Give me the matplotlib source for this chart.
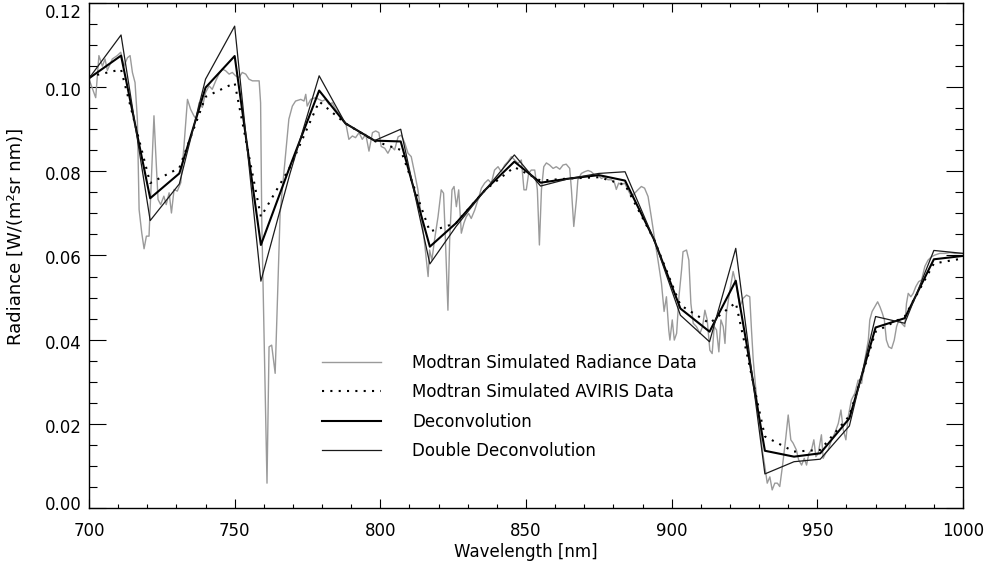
import matplotlib
matplotlib.use("Agg")
import matplotlib.pyplot as plt
import matplotlib.transforms as mtransforms
from matplotlib.ticker import MultipleLocator

# high resolution Modtran radiance
wl_fine = [700, 702.3, 703.4, 704.6, 705.5, 706.3, 708, 709.7, 710.9, 712, 713.2, 714.1, 714.9, 715.8,
           716.6, 717.2, 718.1, 718.9, 719.7, 720.6, 721.2, 722.3, 722.9, 723.7, 724.6, 725.7, 726.5,
           727.5, 728.3, 729.2, 730.3, 731.5, 732.6, 733.8, 734.9, 736, 736.8, 737.8, 738.9, 740,
           741.2, 742.3, 743.5, 744.6, 745.8, 746.9, 748.1, 749.2, 750.3, 751.5, 752.6, 753.8, 754.9,
           756.1, 757.2, 758.4, 758.9, 759.3, 761.1, 761.8, 762.7, 763.9, 765.6, 766.4, 767.5, 768.6,
           769.8, 770.9, 772.7, 773.8, 774.4, 774.9, 776.1, 777.8, 778.9, 780.1, 781.2, 782.4, 783.5,
           784.7, 785.8, 787, 788.1, 789.2, 790.4, 791.5, 792.7, 793.8, 795, 796.1, 797.3, 798.4,
           799.5, 800.3, 801.5, 802.6, 803.8, 804.9, 806.1, 807.2, 808.4, 809.5, 810.6, 811.8, 812.9,
           814.1, 815.2, 816.4, 816.9, 817.7, 818.6, 819.8, 820.9, 821.7, 822.3, 823.2, 823.8, 824.6,
           825.3, 826.1, 826.9, 827.8, 828.7, 829.5, 830.3, 831.2, 832.4, 833.5, 834.7, 835.8, 837,
           838.1, 839.2, 840.4, 841.5, 842.7, 843.8, 845, 846.1, 847.3, 848.4, 849.3, 850.1, 850.9,
           851.8, 853, 853.9, 854.6, 855.3, 856.1, 857, 858.1, 859.3, 860.4, 861.6, 862.7, 863.8, 865,
           865.6, 866.4, 867.3, 867.8, 869, 870.1, 871.3, 872.4, 873.6, 874.7, 875.9, 877, 878.1,
           879.3, 880.4, 881, 881.8, 882.7, 883.9, 885, 886.2, 887.3, 888.4, 889.6, 890.7, 891.9, 893,
           894.2, 895.3, 896.5, 897.4, 898.2, 899, 899.4, 900.2, 900.9, 901.7, 902.5, 903.4, 903.9,
           905.1, 905.9, 906.6, 907.4, 908.5, 909.7, 910.6, 911.4, 912.2, 913.1, 913.9, 914.6, 915.4,
           916.2, 916.9, 917.7, 918.3, 918.8, 920, 921.1, 922.3, 923.4, 924.5, 925.7, 926.8, 927.4,
           928, 928.8, 929.5, 930.3, 931.1, 932, 932.8, 933.7, 934.5, 935.4, 936.3, 937.1, 938, 939.1,
           940, 940.9, 941.7, 942.8, 943.6, 944.6, 945.5, 946.3, 947.1, 948, 948.8, 949.5, 950.3,
           951.4, 952, 952.8, 953.7, 954.9, 956, 957.2, 958.1, 958.9, 959.8, 960.6, 961.7, 962.9, 964,
           965.2, 966.3, 967.5, 968, 968.8, 969.7, 970.7, 971.5, 972.3, 973, 973.7, 974.5, 975.5,
           976.4, 977.2, 978, 978.9, 980, 980.6, 981.2, 982.1, 982.9, 983.8, 984.8, 985.8, 986.9, 988,
           989.2, 990.3, 992, 993.8, 995.5, 997.2, 1000]
rad_fine = [0.1019, 0.0975, 0.1075, 0.105, 0.1067, 0.104, 0.1067, 0.1075, 0.1083, 0.105, 0.107, 0.1075,
            0.1035, 0.1011, 0.0924, 0.0709, 0.0654, 0.0616, 0.0646, 0.0646, 0.0749, 0.0932, 0.0844,
            0.0733, 0.0721, 0.0741, 0.0721, 0.0749, 0.0701, 0.0757, 0.0753, 0.0773, 0.086, 0.0971,
            0.0947, 0.0932, 0.0924, 0.0963, 0.0952, 0.0987, 0.1003, 0.0995, 0.1015, 0.1031, 0.1043,
            0.1039, 0.1031, 0.1035, 0.1027, 0.1023, 0.1035, 0.1031, 0.1019, 0.1015, 0.1015, 0.1015,
            0.0963, 0.0685, 0.0059, 0.0383, 0.0387, 0.032, 0.0700, 0.076, 0.0844, 0.0924, 0.0955,
            0.0967, 0.0971, 0.0967, 0.0983, 0.0955, 0.0971, 0.0975, 0.0971, 0.0967, 0.0971, 0.0959,
            0.0963, 0.0947, 0.0939, 0.0924, 0.0916, 0.0876, 0.0884, 0.088, 0.0892, 0.0876, 0.0888,
            0.0848, 0.0892, 0.0896, 0.0892, 0.0859, 0.0855, 0.0843, 0.0859, 0.0851, 0.0882, 0.0886,
            0.0867, 0.0843, 0.0835, 0.0795, 0.0756, 0.0692, 0.0629, 0.055, 0.0613, 0.0589, 0.0637,
            0.0692, 0.0756, 0.0748, 0.0645, 0.047, 0.0637, 0.0756, 0.0764, 0.0716, 0.0756, 0.0653,
            0.0677, 0.0692, 0.07, 0.0688, 0.0708, 0.0732, 0.076, 0.0772, 0.078, 0.0772, 0.0803, 0.0811,
            0.0799, 0.0815, 0.0823, 0.0835, 0.0827, 0.0819, 0.0827, 0.0756, 0.0756, 0.0795, 0.0803,
            0.0803, 0.0756, 0.0625, 0.0756, 0.0811, 0.082, 0.0815, 0.0807, 0.0811, 0.0805, 0.0815,
            0.0817, 0.0807, 0.0756, 0.0669, 0.0732, 0.078, 0.0795, 0.0799, 0.0802, 0.0799, 0.0791,
            0.0791, 0.0783, 0.0787, 0.078, 0.078, 0.0772, 0.0757, 0.0772, 0.0768, 0.0772, 0.0756,
            0.074, 0.0748, 0.0756, 0.0764, 0.076, 0.074, 0.0692, 0.0637, 0.0589, 0.0534, 0.0467,
            0.0502, 0.0423, 0.0399, 0.0447, 0.0399, 0.0415, 0.0502, 0.0566, 0.0609, 0.0613, 0.0589,
            0.0486, 0.0439, 0.0431, 0.0415, 0.0431, 0.047, 0.0447, 0.0375, 0.0367, 0.0431, 0.0423,
            0.0371, 0.0447, 0.0431, 0.0391, 0.0463, 0.0518, 0.0562, 0.0526, 0.0478, 0.0498, 0.0506,
            0.0502, 0.0423, 0.0352, 0.0289, 0.0241, 0.0194, 0.0138, 0.0098, 0.0059, 0.0074, 0.0043,
            0.0059, 0.0059, 0.0051, 0.0098, 0.0162, 0.0221, 0.0162, 0.0154, 0.0138, 0.0114, 0.0102,
            0.0118, 0.0102, 0.013, 0.0138, 0.0162, 0.0122, 0.013, 0.0174, 0.0118, 0.013, 0.0138,
            0.0162, 0.0178, 0.0201, 0.0233, 0.0186, 0.0162, 0.0217, 0.0257, 0.0273, 0.0304, 0.0296,
            0.0352, 0.0399, 0.0447, 0.0467, 0.0478, 0.049, 0.0478, 0.0463, 0.0447, 0.0399, 0.0383,
            0.0379, 0.0399, 0.0431, 0.0447, 0.0439, 0.0431, 0.0486, 0.051, 0.0502, 0.051, 0.0526,
            0.0538, 0.0542, 0.0574, 0.0589, 0.0597, 0.0601, 0.0605, 0.0605, 0.0607, 0.0605, 0.0605]

# AVIRIS band centres and the three band-sampled curves
wl_band = [700, 711, 721, 731, 740, 750, 759, 769, 779, 788, 798, 807, 817, 826, 836, 846,
           855, 865, 875, 884, 894, 903, 913, 922, 932, 942, 951, 961, 970, 980, 990, 1000]
aviris = [0.1025, 0.1042, 0.0772, 0.0808, 0.0977, 0.1010, 0.0692, 0.0810, 0.0966, 0.0914,
          0.0872, 0.0851, 0.0657, 0.0677, 0.0756, 0.0810, 0.0778, 0.0783, 0.0786, 0.0768,
          0.0637, 0.0482, 0.0439, 0.0488, 0.0170, 0.0134, 0.0138, 0.0219, 0.0419, 0.0455,
          0.0581, 0.0593]
decon = [0.1021, 0.1075, 0.0736, 0.0795, 0.0999, 0.1074, 0.0625, 0.0812, 0.0992, 0.0914,
         0.0873, 0.0871, 0.0621, 0.0677, 0.0756, 0.0823, 0.0773, 0.0783, 0.0791, 0.0778,
         0.0637, 0.0474, 0.0419, 0.0540, 0.0136, 0.0122, 0.0130, 0.0213, 0.0429, 0.0451,
         0.0591, 0.0599]
double_decon = [0.1021, 0.1124, 0.0683, 0.0770, 0.1019, 0.1145, 0.0539, 0.0795, 0.1027, 0.0914,
                0.0873, 0.0900, 0.0580, 0.0669, 0.0756, 0.0839, 0.0765, 0.0783, 0.0795, 0.0799,
                0.0637, 0.0458, 0.0395, 0.0617, 0.0081, 0.0110, 0.0116, 0.0195, 0.0455, 0.0439,
                0.0612, 0.0605]

plt.rcParams['font.family'] = 'DejaVu Sans'
plt.rcParams['font.size'] = 12

fig = plt.figure(figsize=(9.9, 5.71), dpi=100)
ax = fig.add_axes([89/990, 63/571, 874/990, 505/571])

ax.plot(wl_fine, rad_fine, color='#9a9a9a', lw=1.0, label='Modtran Simulated Radiance Data')
ax.plot(wl_band, aviris, color='black', lw=1.5, linestyle=(0, (1, 3)), label='Modtran Simulated AVIRIS Data')
ax.plot(wl_band, decon, color='black', lw=1.5, label='Deconvolution')
ax.plot(wl_band, double_decon, color='#1a1a1a', lw=0.9, label='Double Deconvolution')

ax.set_xlim(700, 1000)
ax.set_ylim(0, 0.12)
ax.xaxis.set_major_locator(MultipleLocator(50))
ax.xaxis.set_minor_locator(MultipleLocator(10))
ax.yaxis.set_major_locator(MultipleLocator(0.02))
ax.yaxis.set_minor_locator(MultipleLocator(0.005))
ax.yaxis.set_major_formatter(plt.FormatStrFormatter('%.2f'))

ax.tick_params(axis='both', which='both', direction='in', top=True, right=True, width=0.8)
ax.tick_params(axis='x', which='major', length=6.5, pad=10)
ax.tick_params(axis='x', which='minor', length=3.2)
ax.tick_params(axis='y', which='major', length=12, pad=5)
ax.tick_params(axis='y', which='minor', length=6)
for s in ax.spines.values():
    s.set_linewidth(1.0)

ax.set_xlabel('Wavelength [nm]', labelpad=2)
ax.set_ylabel('Radiance [W/(m²sr nm)]', fontsize=13)
ax.yaxis.set_label_coords(-0.073, 0.537)

ax.legend(loc='upper left', bbox_to_anchor=(0.267, 0.305), frameon=False, fontsize=12,
          handlelength=3.5, handletextpad=1.9, labelspacing=0.68, borderpad=0, borderaxespad=0)

# IDL-like placement of the y tick labels (end labels kept inside the figure)
fig.canvas.draw()
for tick in ax.yaxis.get_major_ticks():
    v = tick.get_loc()
    dy = 2
    if v > 0.119:
        dy = 8
    elif v < 0.001:
        dy = -5
    off = mtransforms.ScaledTranslation(0, -dy / 100, fig.dpi_scale_trans)
    tick.label1.set_transform(tick.label1.get_transform() + off)

fig.savefig('out.png', dpi=100)
